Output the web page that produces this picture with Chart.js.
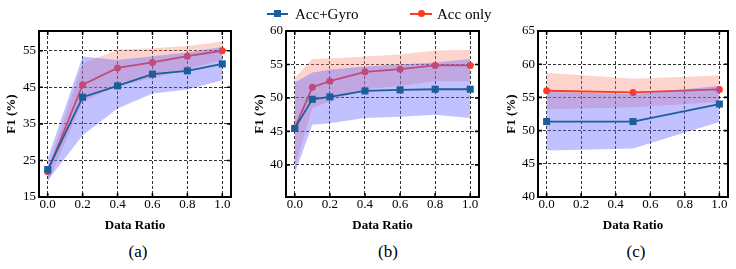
<!DOCTYPE html>
<html>
<head>
<meta charset="utf-8">
<script src="https://cdn.jsdelivr.net/npm/chart.js@4.4.0/dist/chart.umd.min.js"></script>
<style>
  html, body { margin: 0; padding: 0; background: #fff; width: 736px; height: 269px; overflow: hidden;
               font-family: "Liberation Serif", "DejaVu Serif", serif; color: #000; }
  canvas { position: absolute; top: 0; display: block; }
  .leg { position: absolute; top: 4px; height: 20px; line-height: 20px; font-size: 15px; white-space: nowrap; }
  .leg-line { position: absolute; top: 13px; height: 2px; }
  .leg-sq { position: absolute; top: 10px; width: 7px; height: 7px; background: #1b5e9a; }
  .leg-dot { position: absolute; top: 10px; width: 7px; height: 7px; border-radius: 50%; background: #ff3a20; }
  .cap { position: absolute; top: 241px; font-size: 17px; line-height: 22px; transform: translateX(-50%); }
</style>
</head>
<body>
<canvas id="chart-a" width="240" height="233" style="left:0px"></canvas>
<canvas id="chart-b" width="245" height="233" style="left:245px"></canvas>
<canvas id="chart-c" width="246" height="233" style="left:490px"></canvas>

<div class="leg-line" style="left:267px;width:21px;background:#1b5e9a"></div>
<div class="leg-sq" style="left:274px"></div>
<div class="leg" style="left:295px">Acc+Gyro</div>
<div class="leg-line" style="left:410px;width:22px;background:#ff3a20"></div>
<div class="leg-dot" style="left:418px"></div>
<div class="leg" style="left:437px">Acc only</div>

<div class="cap" style="left:138px">(a)</div>
<div class="cap" style="left:388px">(b)</div>
<div class="cap" style="left:636px">(c)</div>

<script>
"use strict";

// -- Data --------------------------------------------------------------
const xTicks = [0.0, 0.2, 0.4, 0.6, 0.8, 1.0];

// (a)
const xA      = [0.0, 0.2, 0.4, 0.6, 0.8, 1.0];
const gyroA   = [22.5, 42.3, 45.4, 48.6, 49.5, 51.4];
const gyroHiA = [25.5, 53.4, 52.5, 53.5, 54.5, 56.0];
const gyroLoA = [19.5, 31.9, 39.2, 43.3, 44.4, 46.9];
const accA    = [21.9, 45.7, 50.3, 51.8, 53.5, 55.0];
const accHiA  = [23.0, 51.5, 55.3, 55.7, 56.3, 57.5];
const accLoA  = [19.0, 41.0, 45.5, 47.5, 50.0, 52.5];
const yTicksA = [15, 25, 35, 45, 55];

// (b)
const xB      = [0.0, 0.1, 0.2, 0.4, 0.6, 0.8, 1.0];
const gyroB   = [45.45, 49.8, 50.15, 51.05, 51.2, 51.3, 51.3];
const gyroHiB = [52.3, 53.8, 54.2, 54.7, 55.0, 55.3, 55.8];
const gyroLoB = [38.7, 46.0, 46.2, 47.0, 47.2, 47.5, 47.0];
const accB    = [45.5, 51.6, 52.5, 53.9, 54.3, 54.85, 54.85];
const accHiB  = [53.0, 55.8, 55.9, 56.2, 56.5, 57.1, 57.2];
const accLoB  = [39.5, 48.5, 49.5, 51.3, 51.8, 52.5, 52.5];
const yTicksB = [40, 45, 50, 55, 60];

// (c)
const xC      = [0.0, 0.5, 1.0];
const gyroC   = [51.36, 51.36, 54.0];
const gyroHiC = [55.8, 55.5, 56.7];
const gyroLoC = [47.0, 47.3, 51.3];
const accC    = [56.0, 55.75, 56.2];
const accHiC  = [58.7, 57.8, 58.3];
const accLoC  = [53.2, 53.5, 54.3];
const yTicksC = [40, 45, 50, 55, 60, 65];

// -- Styling -----------------------------------------------------------
const BLUE = "#1b5e9a";
const RED  = "#ff3a20";
const BLUE_BAND = "rgba(100, 100, 255, 0.4)";
const RED_BAND  = "rgba(250, 128, 114, 0.35)";
const SERIF = "'Liberation Serif', 'Times New Roman', serif";
const tickFont  = { family: SERIF, size: 13 };
const titleFont = { family: SERIF, size: 13, weight: "bold" };

const pts = (xs, ys) => xs.map((x, i) => ({ x, y: ys[i] }));

const band = (xs, ys, color, order, fill) => ({
  data: pts(xs, ys),
  borderWidth: 0,
  pointRadius: 0,
  backgroundColor: color,
  fill,
  order,
});

const line = (xs, ys, color, style, radius, order) => ({
  data: pts(xs, ys),
  borderColor: color,
  backgroundColor: color,
  borderWidth: 1.8,
  pointStyle: style,
  pointRadius: radius,
  pointBorderWidth: 0,
  fill: false,
  order,
});

// frame + inward tick marks on all four sides
const framePlugin = {
  id: "frame",
  afterDraw(chart) {
    const { ctx, chartArea: a, scales: { x, y } } = chart;
    const len = 4;
    ctx.save();
    ctx.strokeStyle = "#000";
    ctx.lineWidth = 1.6;
    ctx.beginPath();
    x.ticks.forEach(t => {
      const px = x.getPixelForValue(t.value);
      ctx.moveTo(px, a.top);    ctx.lineTo(px, a.top + len);
      ctx.moveTo(px, a.bottom); ctx.lineTo(px, a.bottom - len);
    });
    y.ticks.forEach(t => {
      const py = y.getPixelForValue(t.value);
      ctx.moveTo(a.left, py);  ctx.lineTo(a.left + len, py);
      ctx.moveTo(a.right, py); ctx.lineTo(a.right - len, py);
    });
    ctx.stroke();
    ctx.lineWidth = 2;
    ctx.strokeRect(a.left, a.top, a.right - a.left, a.bottom - a.top);
    ctx.restore();
  },
};

function buildPanel(id, p) {
  return new Chart(document.getElementById(id), {
    type: "line",
    data: {
      datasets: [
        band(p.xs, p.accHi, RED_BAND, 4, "+1"),
        band(p.xs, p.accLo, RED_BAND, 4, false),
        line(p.xs, p.acc, RED, "circle", 3.5, 3),
        band(p.xs, p.gyroHi, BLUE_BAND, 2, "+1"),
        band(p.xs, p.gyroLo, BLUE_BAND, 2, false),
        line(p.xs, p.gyro, BLUE, "rect", 5, 1),
      ],
    },
    options: {
      responsive: false,
      animation: false,
      devicePixelRatio: 1,
      layout: { padding: p.pad },
      plugins: { legend: { display: false }, tooltip: { enabled: false } },
      scales: {
        x: {
          type: "linear",
          min: -0.05,
          max: 1.05,
          afterBuildTicks: s => { s.ticks = xTicks.map(v => ({ value: v })); },
          afterFit: s => { s.height = 36; },
          ticks: { padding: 0, color: "#000", font: tickFont, callback: v => Number(v).toFixed(1) },
          grid: { color: "#000", lineWidth: 0.8, drawTicks: false },
          border: { display: false, dash: [3, 2] },
          title: { display: true, text: "Data Ratio", padding: 0, color: "#000", font: titleFont },
        },
        y: {
          min: p.yMin,
          max: p.yMax,
          afterBuildTicks: s => { s.ticks = p.yTicks.map(v => ({ value: v })); },
          afterFit: s => { s.width = p.yWidth; },
          ticks: { padding: 3, color: "#000", font: tickFont },
          grid: { color: "#000", lineWidth: 0.8, drawTicks: false },
          border: { display: false, dash: [3, 2] },
          title: { display: true, text: "F1 (%)", padding: 0, color: "#000", font: titleFont },
        },
      },
    },
    plugins: [framePlugin],
  });
}

buildPanel("chart-a", {
  xs: xA, gyro: gyroA, gyroHi: gyroHiA, gyroLo: gyroLoA, acc: accA, accHi: accHiA, accLo: accLoA,
  yMin: 15, yMax: 60.4, yTicks: yTicksA, yWidth: 35,
  pad: { left: 4, right: 9, top: 31, bottom: 0 },
});

buildPanel("chart-b", {
  xs: xB, gyro: gyroB, gyroHi: gyroHiB, gyroLo: gyroLoB, acc: accB, accHi: accHiB, accLo: accLoB,
  yMin: 35.2, yMax: 60, yTicks: yTicksB, yWidth: 34,
  pad: { left: 7, right: 11, top: 31, bottom: 0 },
});

buildPanel("chart-c", {
  xs: xC, gyro: gyroC, gyroHi: gyroHiC, gyroLo: gyroLoC, acc: accC, accHi: accHiC, accLo: accLoC,
  yMin: 40, yMax: 65, yTicks: yTicksC, yWidth: 34,
  pad: { left: 14, right: 8, top: 31, bottom: 0 },
});
</script>
</body>
</html>
